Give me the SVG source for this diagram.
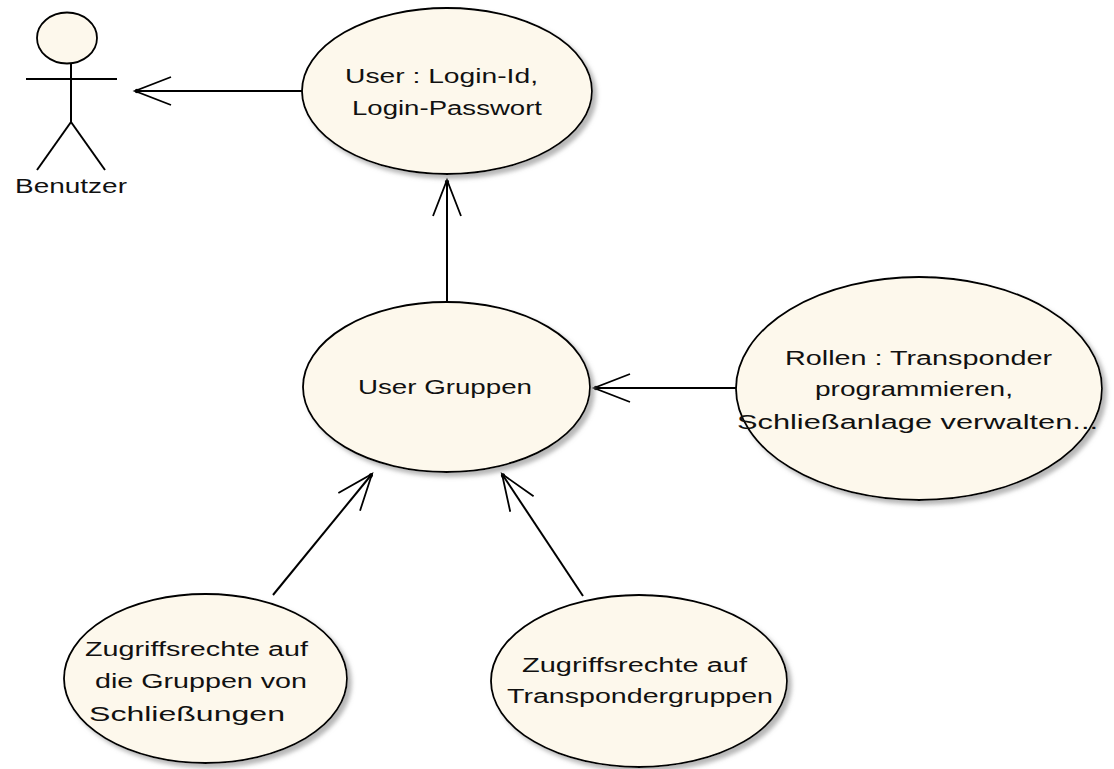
<svg xmlns="http://www.w3.org/2000/svg" width="1114" height="769" viewBox="0 0 1114 769">
<defs>
<filter id="sh" x="-10%" y="-10%" width="125%" height="125%">
<feDropShadow dx="4" dy="4" stdDeviation="2" flood-color="#888" flood-opacity="0.6"/>
</filter>
<marker id="open" markerUnits="userSpaceOnUse" orient="auto" refX="0" refY="0" markerWidth="40" markerHeight="32" overflow="visible">
<path d="M-36,-14 L0,0 L-36,14" fill="none" stroke="#000" stroke-width="1.8"/>
<circle cx="-2" cy="0" r="2.2" fill="#000"/>
</marker>
</defs>
<style>
.uc{fill:#FDF8EC;stroke:#000;stroke-width:1.8;filter:url(#sh)}
.t{font-family:"Liberation Sans",Arial,sans-serif;font-size:20px;fill:#111}
.c{fill:none;stroke:#000;stroke-width:2;marker-end:url(#open)}
.a{fill:none;stroke:#000;stroke-width:2}
</style>
<rect width="1114" height="769" fill="#fff"/>

<g id="connectors">
<line class="c" x1="303" y1="91" x2="135" y2="91"/>
<line class="c" x1="447" y1="302" x2="447" y2="180"/>
<line class="c" x1="736" y1="388" x2="594" y2="388"/>
<line class="c" x1="273" y1="595" x2="372" y2="474"/>
<line class="c" x1="583" y1="596" x2="502" y2="474"/>
</g>

<g id="benutzer">
<ellipse cx="67" cy="38" rx="30" ry="25.5" fill="#FDF8EC" stroke="#000" stroke-width="1.8"/>
<line class="a" x1="71" y1="64" x2="71" y2="122"/>
<line class="a" x1="26" y1="79" x2="117" y2="79"/>
<line class="a" x1="71" y1="122" x2="37" y2="170"/>
<line class="a" x1="71" y1="122" x2="105" y2="170"/>
<text class="t" x="15" y="193" textLength="112" lengthAdjust="spacingAndGlyphs">Benutzer</text>
</g>

<g id="user-login">
<ellipse class="uc" cx="447" cy="91" rx="145" ry="83"/>
<text class="t" x="345" y="83" textLength="193" lengthAdjust="spacingAndGlyphs">User : Login-Id,</text>
<text class="t" x="352" y="115" textLength="190" lengthAdjust="spacingAndGlyphs">Login-Passwort</text>
</g>

<g id="user-gruppen">
<ellipse class="uc" cx="446.5" cy="387" rx="143.5" ry="85"/>
<text class="t" x="358" y="394" textLength="174" lengthAdjust="spacingAndGlyphs">User Gruppen</text>
</g>

<g id="rollen">
<ellipse class="uc" cx="919" cy="388.5" rx="183" ry="111.5"/>
<text class="t" x="785" y="365" textLength="267" lengthAdjust="spacingAndGlyphs">Rollen : Transponder</text>
<text class="t" x="815" y="396" textLength="198" lengthAdjust="spacingAndGlyphs">programmieren,</text>
<text class="t" x="737" y="429" textLength="361" lengthAdjust="spacingAndGlyphs">Schließanlage verwalten...</text>
</g>

<g id="zugriff-schliessungen">
<ellipse class="uc" cx="205.5" cy="678.5" rx="141.5" ry="84.5"/>
<text class="t" x="85" y="656" textLength="223" lengthAdjust="spacingAndGlyphs">Zugriffsrechte auf</text>
<text class="t" x="95" y="688" textLength="212" lengthAdjust="spacingAndGlyphs">die Gruppen von</text>
<text class="t" x="89" y="721" textLength="196" lengthAdjust="spacingAndGlyphs">Schließungen</text>
</g>

<g id="zugriff-transponder">
<ellipse class="uc" cx="639" cy="681" rx="148" ry="86"/>
<text class="t" x="522" y="672" textLength="225" lengthAdjust="spacingAndGlyphs">Zugriffsrechte auf</text>
<text class="t" x="507" y="703" textLength="266" lengthAdjust="spacingAndGlyphs">Transpondergruppen</text>
</g>
</svg>
